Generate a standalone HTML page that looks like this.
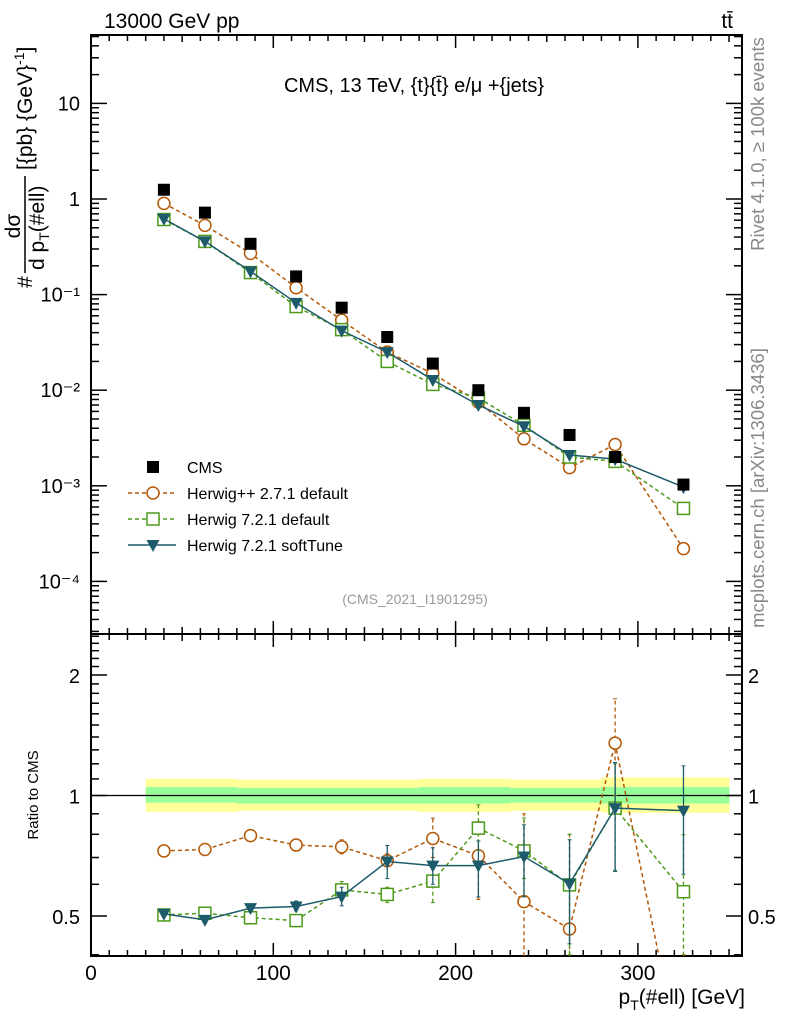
<!DOCTYPE html>
<html><head><meta charset="utf-8"><style>
html,body{margin:0;background:#fff;overflow:hidden;width:786px;height:1024px;}
svg{display:block;font-family:"Liberation Sans",sans-serif;overflow:hidden;}
</style></head><body>
<svg id="c" width="786" height="1024">
<text x="104" y="28" font-size="21">13000 GeV pp</text>
<text x="733" y="28" font-size="21" text-anchor="end">tt̄</text>
<text x="414" y="92" font-size="20" text-anchor="middle">CMS, 13 TeV, {t}{t̄} e/μ +{jets}</text>
<text x="415" y="604" font-size="14" fill="#999" text-anchor="middle">(CMS_2021_I1901295)</text>
<text transform="translate(764,144) rotate(-90)" font-size="18.5" fill="#888" text-anchor="middle">Rivet 4.1.0, ≥ 100k events</text>
<text transform="translate(764,488) rotate(-90)" font-size="18.5" fill="#888" text-anchor="middle">mcplots.cern.ch [arXiv:1306.3436]</text>
<g transform="rotate(-90)">
<text x="-282" y="32" font-size="21" text-anchor="middle">#</text>
<text x="-226" y="20" font-size="21" text-anchor="middle">dσ</text>
<line x1="-273" x2="-176" y1="25" y2="25" stroke="#000" stroke-width="1.5"/>
<text x="-270" y="44" font-size="21">d p<tspan font-size="14" dy="5">T</tspan><tspan dy="-5">(#ell)</tspan></text>
<text x="-170" y="32" font-size="21">[{pb} {GeV}<tspan font-size="14" dy="-8">-1</tspan><tspan dy="8">]</tspan></text>
</g>
<text transform="translate(38,795) rotate(-90)" font-size="15" text-anchor="middle">Ratio to CMS</text>
<text x="745" y="1004" font-size="21" text-anchor="end">p<tspan font-size="14" dy="6">T</tspan><tspan dy="-6">(#ell) [GeV]</tspan></text>
</svg>
<script>
const xs=[40,62.5,87.5,112.5,137.5,162.5,187.5,212.5,237.5,262.5,287.5,325];
const cms=[1.25,0.72,0.34,0.155,0.073,0.036,0.019,0.010,0.0058,0.0034,0.0020,0.00103];
const hpp=[0.9,0.53,0.27,0.118,0.054,0.025,0.0150,0.0075,0.0031,0.00155,0.0027,0.00022];
const h7=[0.61,0.36,0.17,0.075,0.043,0.020,0.0115,0.0083,0.0043,0.0020,0.0018,0.00058];
const h7s=[0.62,0.36,0.175,0.082,0.042,0.025,0.0128,0.0070,0.0042,0.0021,0.0019,0.00097];
const rHpp=[0.727,0.733,0.794,0.752,0.744,0.687,0.781,0.707,0.543,0.464,1.352,0.2];
const rH7=[0.503,0.508,0.495,0.487,0.581,0.566,0.611,0.829,0.727,0.598,0.930,0.575];
const rH7s=[0.506,0.489,0.523,0.528,0.559,0.684,0.668,0.668,0.704,0.602,0.930,0.917];
const rHppLo=[0.72,0.725,0.785,0.735,0.715,0.665,0.70,0.55,0.2,0.2,1.0,0.05];
const rHppHi=[0.735,0.74,0.80,0.77,0.775,0.715,0.878,0.86,0.9,0.8,1.745,0.4];
const rH7Lo=[0.495,0.5,0.485,0.47,0.55,0.54,0.54,0.73,0.62,0.4,0.65,0.3];
const rH7Hi=[0.51,0.515,0.505,0.5,0.61,0.59,0.63,0.948,0.879,0.8,1.2,0.798];
const rH7sLo=[0.5,0.48,0.515,0.515,0.53,0.62,0.6,0.558,0.558,0.426,0.646,0.636];
const rH7sHi=[0.512,0.495,0.53,0.545,0.59,0.75,0.74,0.77,0.845,0.775,1.209,1.186];
const bandX=[30,80,130,180,230,280,350];
const bandY=[0.91,0.915,0.915,0.91,0.915,0.905];
const bandYHi=[1.10,1.095,1.095,1.10,1.095,1.11];
const bandG=[0.96,0.955,0.955,0.955,0.96,0.955];
const bandGHi=[1.05,1.045,1.045,1.05,1.045,1.05];
const xTicks=[0,100,200,300];
const yTickLabels=["10","1","10⁻¹","10⁻²","10⁻³","10⁻⁴"];
const yTickVals=[10,1,0.1,0.01,0.001,0.0001];
const rTicks=[0.5,1,2];

const NS="http://www.w3.org/2000/svg";
const svg=document.getElementById('c');
const L=91,R=742,T=35,D=634,B=956;
const X=v=>L+v*1.823;
const Y=v=>199-95.6*Math.log10(v);
const RY=v=>795.5-120.5*Math.log2(v);
function el(tag,at,parent){const e=document.createElementNS(NS,tag);for(const k in at)e.setAttribute(k,at[k]);(parent||svg).appendChild(e);return e;}

for(let i=0;i<bandY.length;i++){
 const r1=el('rect',{x:X(bandX[i]),y:RY(bandYHi[i]),width:X(bandX[i+1])-X(bandX[i])+0.5,height:RY(bandY[i])-RY(bandYHi[i]),fill:'#ffff99'});
 
 
 const r2=el('rect',{x:X(bandX[i]),y:RY(bandGHi[i]),width:X(bandX[i+1])-X(bandX[i])+0.5,height:RY(bandG[i])-RY(bandGHi[i]),fill:'#99ff99'});
 
 
}
const one=el('line',{x1:L,x2:R,y1:RY(1),y2:RY(1),stroke:'#000','stroke-width':1.3});



const defs=el('defs',{});
const c1=el('clipPath',{id:'cm'},defs);el('rect',{x:L,y:T,width:R-L,height:D-T},c1);
const c2=el('clipPath',{id:'cr'},defs);el('rect',{x:L,y:D,width:R-L,height:B-D},c2);

function frame(y0,y1,name){const f=el('rect',{x:L,y:y0,width:R-L,height:y1-y0,fill:'none',stroke:'#000','stroke-width':2});
 
 }
frame(T,D,'main-frame');frame(D,B,'ratio-frame');
const tk=el('g',{stroke:'#000','stroke-width':1.5});


for(let v=0;v<=350;v+=10){const len=v%100==0?13:(v%50==0?7:6);
 [T,D,B].forEach(y=>{ if(y!==T) el('line',{x1:X(v),x2:X(v),y1:y,y2:y-len},tk); if(y!==B) el('line',{x1:X(v),x2:X(v),y1:y,y2:y+len},tk);});}
for(let e=-5;e<=1;e++)for(let m=1;m<10;m++){const v=m*Math.pow(10,e);const y=Y(v);if(y<T||y>D)continue;const len=m==1?16:8;
 el('line',{x1:L,x2:L+len,y1:y,y2:y},tk);el('line',{x1:R,x2:R-len,y1:y,y2:y},tk);}
[0.4,0.5,0.6,0.7,0.8,0.9,1,1.1,1.2,1.3,1.4,1.5,1.6,1.7,1.8,1.9,2,2.1,2.2,2.3,2.4,2.5].forEach(v=>{const y=RY(v);if(y<D||y>B)return;const len=[0.5,1,2].includes(v)?16:8;
 el('line',{x1:L,x2:L+len,y1:y,y2:y},tk);el('line',{x1:R,x2:R-len,y1:y,y2:y},tk);});
xTicks.forEach(v=>{const t=el('text',{x:X(v),y:980,'font-size':21,'text-anchor':'middle'});t.textContent=v;
 
 });
yTickVals.forEach((v,i)=>{const t=el('text',{x:80,y:Y(v)+7,'font-size':20,'text-anchor':'end'});t.textContent=yTickLabels[i];
 
 });
rTicks.forEach(v=>{const t=el('text',{x:80,y:RY(v)+8,'font-size':20,'text-anchor':'end'});t.textContent=v;
 
 
 const t2=el('text',{x:748,y:RY(v)+8,'font-size':20});t2.textContent=v;
 
 });

function marker(g,type,x,y,col){
 if(type=='circ')el('circle',{cx:x,cy:y,r:6,fill:'#fff',stroke:col,'stroke-width':1.5},g);
 else if(type=='sq')el('rect',{x:x-6,y:y-6,width:12,height:12,fill:'#fff',stroke:col,'stroke-width':1.5},g);
 else if(type=='tri')el('path',{d:`M${x-6.5},${y-5}L${x+6.5},${y-5}L${x},${y+7}Z`,fill:col},g);
 else el('rect',{x:x-6,y:y-6,width:12,height:12,fill:col},g);
}
function series(vals,lo,hi,yf,col,dash,type,clip,name){
 const g=el('g',{'clip-path':`url(#${clip})`});
 
 
 if(lo)xs.forEach((x,i)=>{el('line',{x1:X(x),x2:X(x),y1:yf(lo[i]),y2:yf(hi[i]),stroke:col,'stroke-width':1.3,'stroke-dasharray':dash},g);
  el('line',{x1:X(x)-2,x2:X(x)+2,y1:yf(lo[i]),y2:yf(lo[i]),stroke:col},g);el('line',{x1:X(x)-2,x2:X(x)+2,y1:yf(hi[i]),y2:yf(hi[i]),stroke:col},g);});
 el('polyline',{points:xs.map((x,i)=>X(x)+','+yf(vals[i])).join(' '),fill:'none',stroke:col,'stroke-width':1.5,'stroke-dasharray':dash},g);
 xs.forEach((x,i)=>marker(g,type,X(x),yf(vals[i]),col));
}
const OR='#b35806',GR='#4d9a1a',BL='#1d5b6b';
series(hpp,null,null,Y,OR,'4,3','circ','cm','herwigpp-main');
series(h7,null,null,Y,GR,'4,3','sq','cm','herwig7-default-main');
series(h7s,null,null,Y,BL,'none','tri','cm','herwig7-softtune-main');
const cg=el('g',{});


xs.forEach((x,i)=>marker(cg,'fill',X(x),Y(cms[i]),'#000'));
series(rHpp,rHppLo,rHppHi,RY,OR,'4,3','circ','cr','herwigpp-ratio');
series(rH7,rH7Lo,rH7Hi,RY,GR,'4,3','sq','cr','herwig7-default-ratio');
series(rH7s,rH7sLo,rH7sHi,RY,BL,'none','tri','cr','herwig7-softtune-ratio');

const legend=[['CMS','fill','#000','none'],['Herwig++ 2.7.1 default','circ',OR,'4,3'],['Herwig 7.2.1 default','sq',GR,'4,3'],['Herwig 7.2.1 softTune','tri',BL,'none']];
const lg=el('g',{});


legend.forEach((e,i)=>{const y=467+i*26;const g=el('g',{},lg);
 
 
 if(i>0)el('line',{x1:128,x2:176,y1:y,y2:y,stroke:e[2],'stroke-width':1.5,'stroke-dasharray':e[3]},g);
 marker(g,e[1],153,y,e[2]);
 const t=el('text',{x:187,y:y+6,'font-size':16},g);t.textContent=e[0];});
</script>
</body></html>
